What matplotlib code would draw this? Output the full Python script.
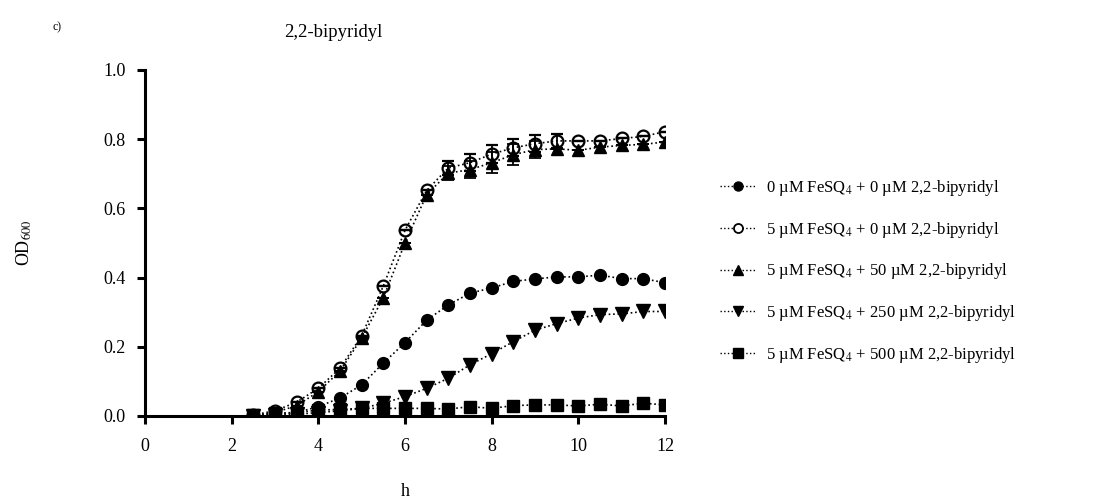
import matplotlib.pyplot as plt
from matplotlib.lines import Line2D

plt.rcParams["font.family"] = "Liberation Serif"
plt.rcParams["mathtext.fontset"] = "stix"

hours = [2.5, 3.0, 3.5, 4.0, 4.5, 5.0, 5.5, 6.0, 6.5, 7.0,
         7.5, 8.0, 8.5, 9.0, 9.5, 10.0, 10.5, 11.0, 11.5, 12.0]

od_fe0_bipy0 = [0.0, 0.005, 0.01, 0.027, 0.052, 0.09, 0.153, 0.212, 0.277, 0.321,
                0.355, 0.37, 0.389, 0.396, 0.402, 0.402, 0.407, 0.397, 0.397, 0.385]
od_fe5_bipy0 = [0.003, 0.015, 0.04, 0.08, 0.138, 0.232, 0.376, 0.537, 0.652, 0.717,
                0.732, 0.757, 0.775, 0.787, 0.795, 0.795, 0.795, 0.802, 0.808, 0.822]
od_fe5_bipy50 = [0.0, 0.01, 0.03, 0.07, 0.13, 0.225, 0.342, 0.5, 0.64, 0.702,
                 0.712, 0.732, 0.755, 0.77, 0.772, 0.768, 0.777, 0.782, 0.785, 0.792]
od_fe5_bipy250 = [0.0, 0.003, 0.005, 0.01, 0.015, 0.022, 0.037, 0.056, 0.08, 0.109,
                  0.148, 0.18, 0.215, 0.248, 0.267, 0.283, 0.293, 0.295, 0.302, 0.302]
od_fe5_bipy500 = [0.003, 0.008, 0.01, 0.017, 0.019, 0.022, 0.022, 0.022, 0.022, 0.02,
                  0.027, 0.022, 0.03, 0.032, 0.032, 0.029, 0.034, 0.029, 0.037, 0.032]

err_fe5_bipy0 = [0, 0, 0, 0, 0, 0, 0, 0, 0, 0.02,
                 0.025, 0.025, 0.025, 0.025, 0.02, 0, 0, 0, 0, 0]
err_fe5_bipy50 = [0, 0, 0, 0, 0, 0, 0, 0, 0, 0.02,
                  0.025, 0.03, 0.03, 0.025, 0, 0, 0, 0, 0, 0]

labels = [
    r"0 µM FeSQ$_4$ + 0 µM 2,2-bipyridyl",
    r"5 µM FeSQ$_4$ + 0 µM 2,2-bipyridyl",
    r"5 µM FeSQ$_4$ + 50 µM 2,2-bipyridyl",
    r"5 µM FeSQ$_4$ + 250 µM 2,2-bipyridyl",
    r"5 µM FeSQ$_4$ + 500 µM 2,2-bipyridyl",
]

fig = plt.figure(figsize=(10.96, 5.01), dpi=100)
ax = fig.add_axes([0.1323, 0.1697, 0.4745, 0.6906])

line_kw = dict(color="black", linestyle=":", linewidth=1.2, markersize=8.5)
err_kw = dict(ecolor="black", elinewidth=1.3, capsize=4, capthick=1.3)

ax.plot(hours, od_fe0_bipy0, marker="o", **line_kw)
ax.plot(hours, od_fe5_bipy500, marker="s", **line_kw)
ax.plot(hours, od_fe5_bipy250, marker="v", markersize=9.5,
        **{k: v for k, v in line_kw.items() if k != "markersize"})
ax.errorbar(hours, od_fe5_bipy50, yerr=err_fe5_bipy50, marker="^", **line_kw, **err_kw)
ax.errorbar(hours, od_fe5_bipy0, yerr=err_fe5_bipy0, marker="o",
            markerfacecolor="none", markeredgewidth=1.6, **line_kw, **err_kw)

for sp in ["top", "right"]:
    ax.spines[sp].set_visible(False)
for sp in ["left", "bottom"]:
    ax.spines[sp].set_linewidth(2.2)

ax.set_xlim(0, 12)
ax.set_ylim(0, 1.0)
ax.set_xticks([0, 2, 4, 6, 8, 10, 12])
ax.set_yticks([0.0, 0.2, 0.4, 0.6, 0.8, 1.0])
ax.set_yticklabels(["0.0", "0.2", "0.4", "0.6", "0.8", "1.0"])
ax.tick_params(width=2.2, length=6, labelsize=13, pad=8)
ax.tick_params(axis="x", pad=10)

ax.set_xlabel("h", fontsize=13, labelpad=20)
ax.set_ylabel(r"OD$_{600}$", fontsize=13, labelpad=50)

fig.text(0.304, 0.935, "2,2-bipyridyl", fontsize=13.5, ha="center", va="center")
fig.text(0.052, 0.945, "c)", fontsize=8.5, ha="center", va="center")

handles = [
    Line2D([], [], color="black", ls=":", lw=1, marker="o", ms=6.5),
    Line2D([], [], color="black", ls=":", lw=1, marker="o", ms=6.5, mfc="white", mew=1.3),
    Line2D([], [], color="black", ls=":", lw=1, marker="^", ms=6.5),
    Line2D([], [], color="black", ls=":", lw=1, marker="v", ms=6.5),
    Line2D([], [], color="black", ls=":", lw=1, marker="s", ms=6.5),
]
fig.legend(handles, labels, loc="upper left",
           bbox_to_anchor=(0.643, 0.675), frameon=False, fontsize=12,
           handlelength=2.2, handletextpad=0.6, labelspacing=1.31)

fig.savefig("out.png", dpi=100)
